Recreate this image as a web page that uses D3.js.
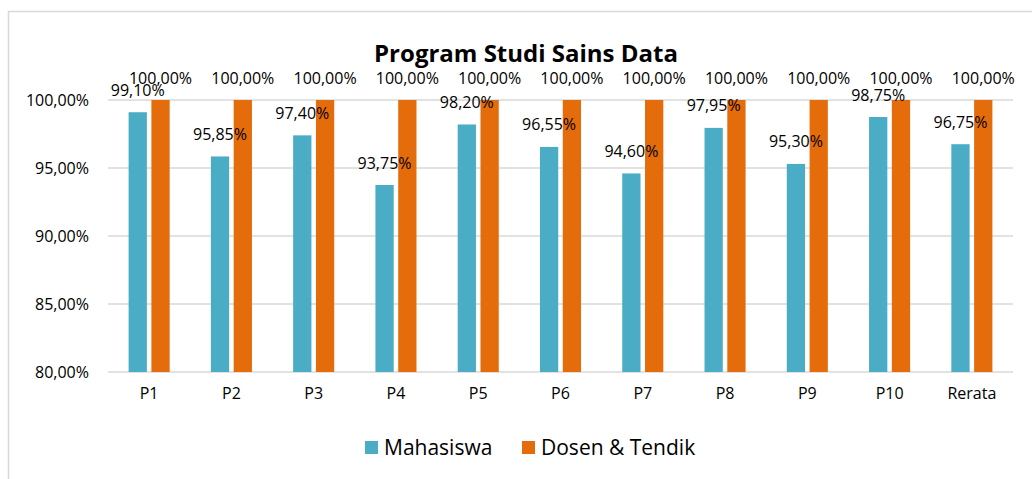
<!DOCTYPE html>
<html>
<head>
<meta charset="utf-8">
<script src="https://cdn.jsdelivr.net/npm/d3@7"></script>
<style>
  body { margin: 0; background: #fff; }
  text { font-family: "Open Sans", sans-serif; fill: #000; }
</style>
</head>
<body>
<div id="vis"></div>
<script>
// chart data
const categories = ["P1", "P2", "P3", "P4", "P5", "P6", "P7", "P8", "P9", "P10", "Rerata"];
const mahasiswa = [99.10, 95.85, 97.40, 93.75, 98.20, 96.55, 94.60, 97.95, 95.30, 98.75, 96.75];
const dosen = [100, 100, 100, 100, 100, 100, 100, 100, 100, 100, 100];
const seriesNames = ["Mahasiswa", "Dosen & Tendik"];
const yTicks = [80, 85, 90, 95, 100];

const width = 1032, height = 479;
const colors = ["#4BACC6", "#E46C0A"];

const svg = d3.select("#vis").append("svg")
    .attr("width", width)
    .attr("height", height);

// outer chart frame
svg.append("rect")
    .attr("x", 8.5).attr("y", 11.5)
    .attr("width", 1040).attr("height", 480)
    .attr("fill", "none")
    .attr("stroke", "#d9d9d9")
    .attr("stroke-width", 1.5);

const x = d3.scaleBand().domain(categories).range([108, 1013]);
const y = d3.scaleLinear().domain([80, 100]).range([372, 100]);

const fmt = v => v.toFixed(2).replace(".", ",") + "%";

// gridlines
svg.append("g").selectAll("line")
    .data(yTicks)
    .join("line")
    .attr("x1", 108).attr("x2", 1013)
    .attr("y1", d => y(d)).attr("y2", d => y(d))
    .attr("stroke", "#d9d9d9")
    .attr("stroke-width", 1.5);

// y axis labels
const yAxis = d3.axisLeft(y).tickValues(yTicks).tickFormat(fmt).tickSize(0).tickPadding(0);
const yg = svg.append("g").attr("transform", "translate(89,0)").call(yAxis);
yg.select(".domain").remove();
yg.selectAll("text").attr("font-size", 16).attr("font-family", "Open Sans").attr("fill", "#000");

// x axis labels
const xAxis = d3.axisBottom(x).tickSize(0).tickPadding(0);
const xg = svg.append("g").attr("transform", "translate(0,388)").call(xAxis);
xg.select(".domain").remove();
xg.selectAll("text").attr("font-size", 16).attr("font-family", "Open Sans").attr("fill", "#000");

const bw = x.bandwidth();
const barW = bw * 0.222, gap = bw * 0.055;
const offsets = [bw / 2 - gap / 2 - barW, bw / 2 + gap / 2];
const allSeries = [mahasiswa, dosen];

// bars first, labels on top
allSeries.forEach((vals, s) => {
    svg.append("g").selectAll("rect")
        .data(vals)
        .join("rect")
        .attr("x", (d, i) => x(categories[i]) + offsets[s])
        .attr("y", d => y(d))
        .attr("width", barW)
        .attr("height", d => y(80) - y(d))
        .attr("fill", colors[s]);
});

allSeries.forEach((vals, s) => {
    svg.append("g").selectAll("text")
        .data(vals)
        .join("text")
        .attr("x", (d, i) => x(categories[i]) + offsets[s] + barW / 2)
        .attr("y", d => y(d) - 16.5)
        .attr("text-anchor", "middle")
        .attr("font-size", 16)
        .text(d => fmt(d));
});

// title
svg.append("text")
    .attr("x", 526).attr("y", 62)
    .attr("text-anchor", "middle")
    .attr("font-size", 24)
    .attr("font-weight", "bold")
    .text("Program Studi Sains Data");

// legend
const legendX = [365, 522];
seriesNames.forEach((name, i) => {
    svg.append("rect")
        .attr("x", legendX[i]).attr("y", 441)
        .attr("width", 13).attr("height", 13)
        .attr("fill", colors[i]);
    svg.append("text")
        .attr("x", legendX[i] + 19).attr("y", 455)
        .attr("font-size", 21)
        .text(name);
});
</script>
</body>
</html>
